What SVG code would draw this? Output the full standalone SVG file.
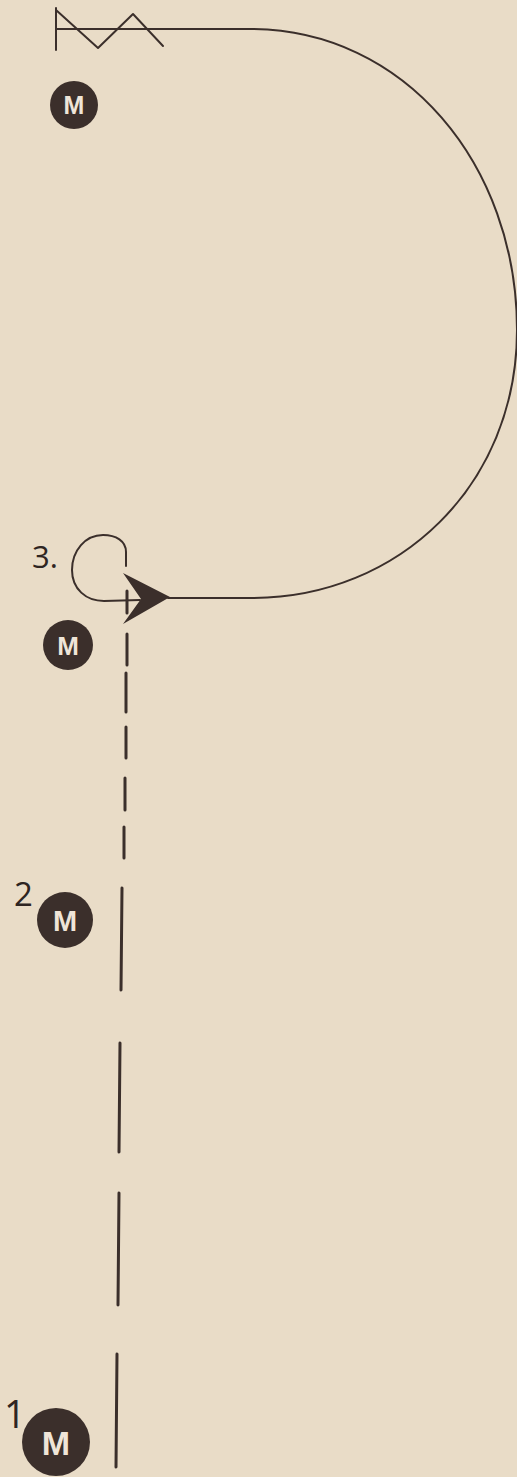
<svg xmlns="http://www.w3.org/2000/svg" width="517" height="1477" viewBox="0 0 517 1477">
<style>
.ink{fill:none;stroke:#3b2f2b;stroke-linecap:round;stroke-linejoin:round}
.thin{stroke-width:2}
.dash{stroke-width:3}
.disc{fill:#3b2f2b}
.m{font-family:"Liberation Sans",Arial,sans-serif;font-weight:bold;fill:#efe5d8;text-anchor:middle}
.lbl{font-family:"Open Sans","Liberation Sans",sans-serif;fill:#2e2522}
</style>
<rect width="517" height="1477" fill="#e9dcc7"/>
<g id="connectors">
  <path class="ink thin" d="M56,29 H250 C405,29 517,165 517,330 C517,485 399,598 252,598 H168"/>
  <path class="ink thin" d="M126,566 V552 C126,541 116,535 103,535 C85,535 72,551 72,570 C72,589 86,601 104,601 L140,600"/>
  <polygon points="170,597 123,573 141,599 123,624" fill="#3b2f2b"/>
  <g class="ink dash">
    <line x1="127" y1="591" x2="127" y2="613"/>
    <line x1="127" y1="634" x2="127" y2="665"/>
    <line x1="126" y1="673" x2="126" y2="712"/>
    <line x1="126" y1="727" x2="126" y2="758"/>
    <line x1="125" y1="778" x2="125" y2="810"/>
    <line x1="124" y1="827" x2="124" y2="858"/>
    <line x1="122" y1="888" x2="121" y2="990"/>
    <line x1="120" y1="1043" x2="119" y2="1152"/>
    <line x1="119" y1="1193" x2="118" y2="1305"/>
    <line x1="117" y1="1354" x2="116" y2="1467"/>
  </g>
</g>
<g id="start-zigzag">
  <path class="ink thin" d="M56,8 V50 M56,10 L98,48 L133,14 L163,46"/>
</g>
<g id="node-m-top">
  <circle class="disc" cx="74" cy="105" r="24"/>
  <text class="m" x="74" y="114" font-size="25">M</text>
</g>
<g id="node-m-3">
  <text class="lbl" x="32" y="568" font-size="31">3.</text>
  <circle class="disc" cx="68" cy="645" r="25"/>
  <text class="m" x="68" y="655" font-size="26">M</text>
</g>
<g id="node-m-2">
  <text class="lbl" x="14" y="906" font-size="33">2</text>
  <circle class="disc" cx="65" cy="920" r="28"/>
  <text class="m" x="65" y="931" font-size="29">M</text>
</g>
<g id="node-m-1">
  <text class="lbl" x="4" y="1428" font-size="38">1</text>
  <circle class="disc" cx="56" cy="1442" r="34"/>
  <text class="m" x="56" y="1455" font-size="34">M</text>
</g>
</svg>
